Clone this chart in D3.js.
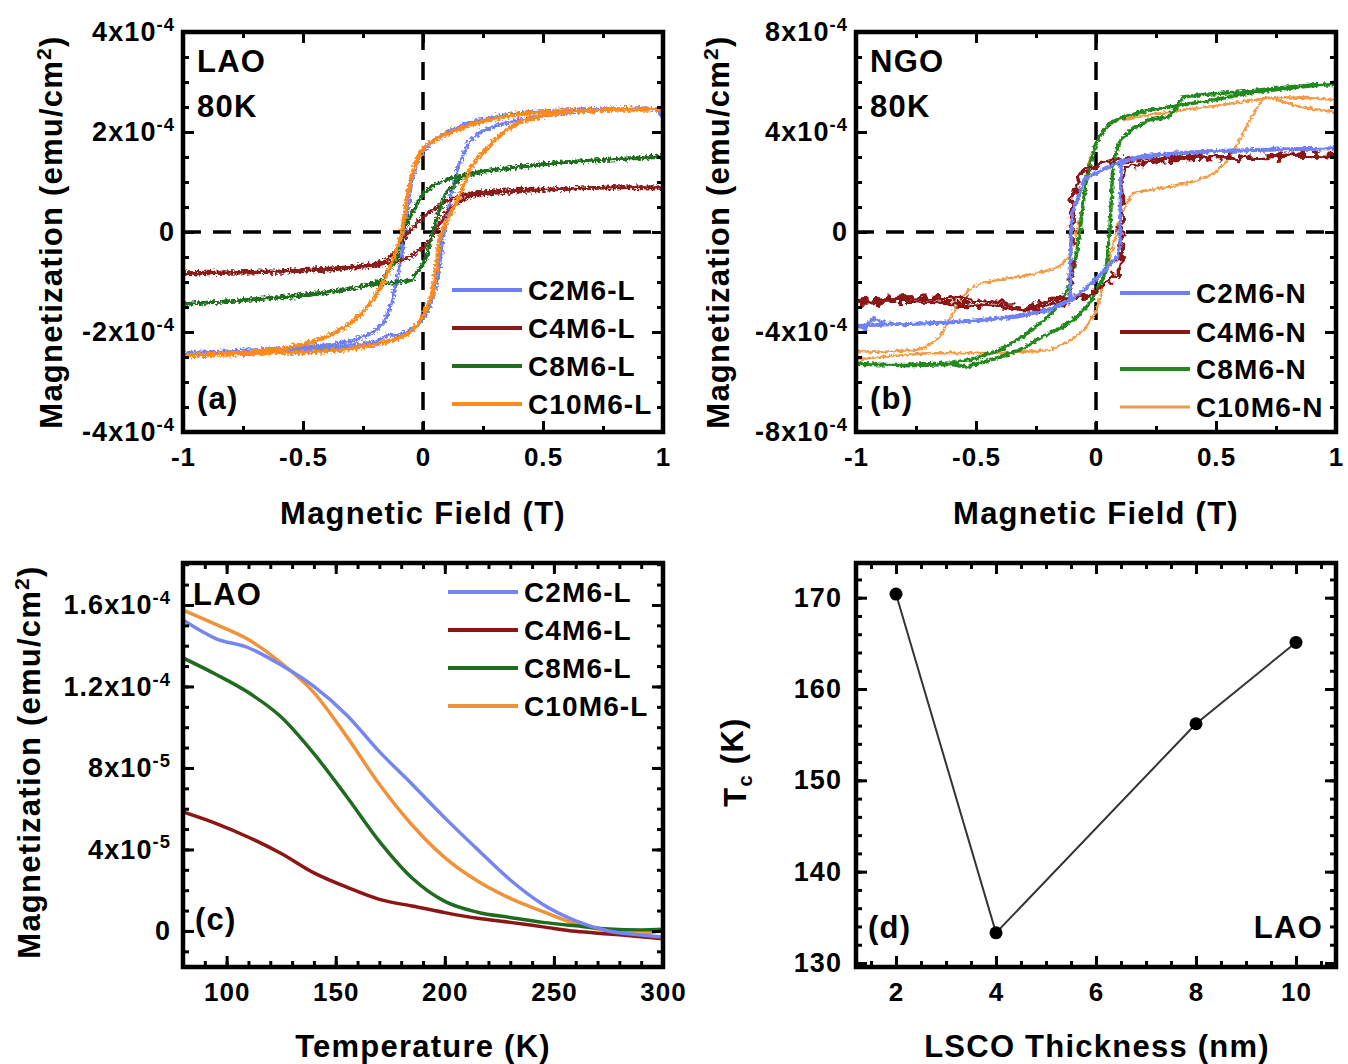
<!DOCTYPE html>
<html>
<head>
<meta charset="utf-8">
<script src="https://cdn.jsdelivr.net/npm/d3@7"></script>
<style>
  body { margin: 0; background: #fff; }
  svg text { font-family: 'Liberation Sans', Arial, sans-serif; font-weight: bold; fill: #000; letter-spacing: 0.04em; }
</style>
</head>
<body>
<div id="chart"></div>
<script>

/****************************************
 *
 * Data
 *
 ****************************************/

// shared field axis of (a) and (b)
const fieldTicks = [-1, -0.5, 0, 0.5, 1]
const fieldTickLabels = ['-1', '-0.5', '0', '0.5', '1']

// magnetization axes, values in 1e-4 emu/cm2
const laoLoopTicks = [-4, -2, 0, 2, 4]
const laoLoopTickLabels = ['-4x10^-4', '-2x10^-4', '0', '2x10^-4', '4x10^-4']
const ngoLoopTicks = [-8, -4, 0, 4, 8]
const ngoLoopTickLabels = ['-8x10^-4', '-4x10^-4', '0', '4x10^-4', '8x10^-4']

const laoSamples = ['C2M6-L', 'C4M6-L', 'C8M6-L', 'C10M6-L']
const ngoSamples = ['C2M6-N', 'C4M6-N', 'C8M6-N', 'C10M6-N']

// (a) M-H loops on LAO at 80 K, [field (T), M (1e-4 emu/cm2)]
const c2m6LDown = [[1, 2.3], [0.98, 2.46], [0.9, 2.48], [0.8, 2.45], [0.7, 2.47], [0.6, 2.44], [0.5, 2.42], [0.4, 2.38], [0.3, 2.3], [0.2, 2.2], [0.12, 2.05], [0.05, 1.85], [0, 1.62], [-0.03, 1.35], [-0.05, 0.95], [-0.07, 0.2], [-0.09, -0.5], [-0.11, -1.0], [-0.13, -1.4], [-0.16, -1.78], [-0.2, -1.98], [-0.25, -2.1], [-0.3, -2.18], [-0.4, -2.26], [-0.5, -2.3], [-0.6, -2.33], [-0.7, -2.36], [-0.8, -2.38], [-0.9, -2.4], [-1, -2.42]]
const c2m6LUp = [[-1, -2.45], [-0.8, -2.42], [-0.6, -2.38], [-0.4, -2.32], [-0.3, -2.27], [-0.2, -2.2], [-0.14, -2.05], [-0.1, -2.08], [-0.05, -1.95], [0, -1.75], [0.03, -1.45], [0.06, -1.0], [0.08, -0.2], [0.1, 0.3], [0.12, 0.8], [0.15, 1.35], [0.19, 1.8], [0.24, 2.0], [0.3, 2.12], [0.4, 2.25], [0.5, 2.32], [0.6, 2.38], [0.7, 2.42], [0.8, 2.45], [0.9, 2.47], [0.98, 2.44], [1, 2.25]]
const c4m6LDown = [[1, 0.88], [0.8, 0.9], [0.6, 0.86], [0.4, 0.85], [0.3, 0.82], [0.2, 0.78], [0.15, 0.72], [0.1, 0.62], [0.05, 0.48], [0, 0.3], [-0.03, 0.15], [-0.06, 0], [-0.09, -0.2], [-0.12, -0.4], [-0.15, -0.56], [-0.2, -0.64], [-0.3, -0.7], [-0.4, -0.73], [-0.6, -0.78], [-0.8, -0.8], [-1, -0.82]]
const c4m6LUp = [[-1, -0.84], [-0.8, -0.82], [-0.6, -0.8], [-0.4, -0.76], [-0.2, -0.68], [-0.1, -0.58], [-0.05, -0.48], [0, -0.32], [0.03, -0.15], [0.05, 0], [0.08, 0.25], [0.1, 0.42], [0.15, 0.6], [0.2, 0.72], [0.3, 0.78], [0.5, 0.84], [0.7, 0.88], [1, 0.9]]
const c8m6LDown = [[1, 1.5], [0.8, 1.45], [0.6, 1.4], [0.5, 1.36], [0.4, 1.3], [0.3, 1.25], [0.2, 1.18], [0.1, 1.05], [0.05, 0.95], [0, 0.78], [-0.045, 0.38], [-0.085, 0], [-0.11, -0.56], [-0.17, -0.96], [-0.25, -1.08], [-0.35, -1.18], [-0.5, -1.28], [-0.7, -1.35], [-0.85, -1.4], [-1, -1.44]]
const c8m6LUp = [[-1, -1.44], [-0.8, -1.38], [-0.6, -1.3], [-0.4, -1.2], [-0.2, -1.05], [-0.1, -1.0], [-0.045, -0.96], [0.01, -0.56], [0.04, 0], [0.07, 0.45], [0.095, 0.78], [0.16, 1.1], [0.25, 1.2], [0.4, 1.3], [0.6, 1.4], [0.8, 1.46], [1, 1.52]]
const c10m6LDown = [[1, 2.45], [0.8, 2.45], [0.6, 2.42], [0.5, 2.4], [0.4, 2.35], [0.3, 2.27], [0.2, 2.15], [0.12, 2.0], [0.05, 1.85], [0, 1.68], [-0.03, 1.4], [-0.05, 1.1], [-0.07, 0.55], [-0.09, -0.05], [-0.11, -0.35], [-0.13, -0.62], [-0.16, -0.95], [-0.2, -1.3], [-0.25, -1.6], [-0.3, -1.82], [-0.38, -2.05], [-0.46, -2.2], [-0.6, -2.35], [-0.8, -2.42], [-1, -2.47]]
const c10m6LUp = [[-1, -2.47], [-0.8, -2.45], [-0.6, -2.42], [-0.45, -2.4], [-0.32, -2.35], [-0.2, -2.25], [-0.11, -2.15], [-0.05, -2.0], [-0.02, -1.82], [0.01, -1.55], [0.04, -1.25], [0.055, -0.7], [0.067, -0.16], [0.09, 0.15], [0.115, 0.35], [0.14, 0.58], [0.17, 0.95], [0.2, 1.3], [0.25, 1.6], [0.3, 1.84], [0.35, 2.05], [0.41, 2.22], [0.5, 2.32], [0.6, 2.4], [0.8, 2.45], [1, 2.45]]

// (b) M-H loops on NGO at 80 K
const c2m6NDown = [[1, 3.35], [0.8, 3.3], [0.6, 3.25], [0.4, 3.2], [0.2, 3.05], [0.1, 2.8], [0.03, 2.5], [-0.05, 2.1], [-0.08, 1.2], [-0.1, 0.8], [-0.105, -0.5], [-0.108, -2.7], [-0.15, -2.9], [-0.2, -3.1], [-0.33, -3.4], [-0.45, -3.5], [-0.6, -3.62], [-0.8, -3.7], [-0.88, -3.65], [-0.93, -3.45], [-0.96, -3.85], [-1, -3.75]]
const c2m6NUp = [[-1, -3.75], [-0.8, -3.68], [-0.6, -3.6], [-0.4, -3.45], [-0.2, -3.15], [-0.1, -2.7], [-0.025, -2.1], [0.03, -1.6], [0.07, -1.15], [0.09, -1.0], [0.1, -0.5], [0.102, 1.5], [0.105, 2.76], [0.15, 2.9], [0.3, 3.1], [0.5, 3.25], [0.7, 3.3], [1, 3.35]]
const c4m6NDown = [[1, 3.05], [0.8, 3.1], [0.6, 2.95], [0.4, 3.05], [0.2, 2.95], [0.1, 2.9], [0.03, 2.7], [-0.03, 2.55], [-0.06, 2.4], [-0.08, 1.7], [-0.09, 1.75], [-0.1, 1.2], [-0.102, -2.5], [-0.13, -2.65], [-0.2, -2.75], [-0.3, -3.1], [-0.35, -2.9], [-0.45, -2.75], [-0.6, -2.65], [-0.8, -2.6], [-1, -2.8]]
const c4m6NUp = [[-1, -2.85], [-0.8, -2.75], [-0.6, -2.85], [-0.4, -3.0], [-0.3, -3.15], [-0.2, -3.0], [-0.1, -2.7], [-0.02, -2.45], [0.06, -1.9], [0.085, -1.6], [0.095, -1.4], [0.1, -1.8], [0.105, -0.5], [0.11, 1.5], [0.115, 2.6], [0.2, 2.75], [0.3, 2.9], [0.5, 3.0], [0.7, 2.95], [0.85, 3.1], [1, 3.0]]
const c8m6NDown = [[1, 5.9], [0.9, 5.85], [0.8, 5.75], [0.64, 5.56], [0.5, 5.3], [0.36, 5.08], [0.22, 4.88], [0.1, 4.55], [0.06, 4.36], [0.02, 3.9], [0, 3.56], [-0.02, 2.9], [-0.04, 2.08], [-0.055, 1.0], [-0.066, 0.08], [-0.08, -0.8], [-0.095, -1.52], [-0.115, -2.2], [-0.14, -2.72], [-0.18, -3.2], [-0.23, -3.64], [-0.3, -4.15], [-0.4, -4.72], [-0.5, -5.05], [-0.6, -5.24], [-0.8, -5.3], [-1, -5.3]]
const c8m6NUp = [[-1, -5.25], [-0.8, -5.35], [-0.6, -5.3], [-0.54, -5.4], [-0.4, -5.0], [-0.3, -4.65], [-0.25, -4.32], [-0.15, -3.85], [-0.08, -3.4], [-0.03, -2.9], [0, -2.44], [0.03, -1.8], [0.045, -1.24], [0.058, 0.08], [0.065, 1.5], [0.07, 2.76], [0.1, 3.68], [0.15, 4.1], [0.22, 4.48], [0.3, 4.6], [0.33, 4.9], [0.36, 5.4], [0.45, 5.5], [0.6, 5.6], [0.8, 5.8], [1, 5.95]]
const c10m6NDown = [[1, 5.28], [0.9, 5.35], [0.75, 5.4], [0.6, 5.2], [0.5, 5.05], [0.36, 4.88], [0.2, 4.65], [0.09, 4.48], [0.03, 4.08], [-0.025, 3.0], [-0.045, 1.8], [-0.066, 0.6], [-0.09, -0.3], [-0.11, -1.0], [-0.15, -1.35], [-0.19, -1.52], [-0.3, -1.75], [-0.4, -1.9], [-0.47, -2.04], [-0.53, -2.3], [-0.57, -2.84], [-0.61, -3.5], [-0.65, -4.2], [-0.7, -4.55], [-0.75, -4.72], [-0.9, -4.8], [-1, -4.75]]
const c10m6NUp = [[-1, -5.1], [-0.9, -5.0], [-0.7, -4.85], [-0.47, -4.84], [-0.3, -4.8], [-0.19, -4.72], [-0.1, -4.3], [-0.05, -3.92], [0, -3.2], [0.017, -2.6], [0.04, -1.6], [0.07, -0.6], [0.1, 0.6], [0.13, 1.2], [0.155, 1.56], [0.2, 1.65], [0.3, 1.8], [0.4, 2.0], [0.46, 2.2], [0.5, 2.4], [0.55, 2.88], [0.6, 3.7], [0.64, 4.48], [0.7, 5.4], [0.75, 5.3], [0.85, 5.0], [1, 4.78]]

// (c) M-T curves, M in 1e-5 emu/cm2
const temperatureTicks = [100, 150, 200, 250, 300]
const mtTicks = [0, 4, 8, 12, 16]
const mtTickLabels = ['0', '4x10^-5', '8x10^-5', '1.2x10^-4', '1.6x10^-4']
const temperature = [80, 95, 110, 125, 140, 155, 170, 185, 200, 215, 230, 245, 260, 275, 290, 300]
const c2m6LMT = [15.26, 14.35, 13.9, 13.05, 12.0, 10.6, 8.8, 7.2, 5.55, 4.0, 2.5, 1.3, 0.5, 0.0, -0.2, -0.3]
const c4m6LMT = [5.84, 5.28, 4.6, 3.8, 2.85, 2.15, 1.55, 1.22, 0.9, 0.62, 0.42, 0.2, -0.02, -0.15, -0.28, -0.38]
const c8m6LMT = [13.4, 12.6, 11.7, 10.5, 8.7, 6.6, 4.4, 2.6, 1.45, 0.92, 0.66, 0.42, 0.25, 0.1, 0.05, 0.08]
const c10m6LMT = [15.75, 15.05, 14.3, 13.15, 11.7, 9.55, 7.2, 5.2, 3.6, 2.45, 1.6, 0.95, 0.35, 0.0, -0.15, 0.05]

// (d) Curie temperature vs LSCO thickness
const thicknessTicks = [2, 4, 6, 8, 10]
const tcTicks = [130, 140, 150, 160, 170]
const thickness = [2, 4, 8, 10]
const curieTemp = [170.4, 133.3, 156.2, 165.1]

/****************************************
 *
 * Layout helpers
 *
 ****************************************/

const width = 1348
	, height = 1064
	, pw = 480

const svg = d3.select('#chart').append('svg')
	.attr('width', width)
	.attr('height', height)

const defs = svg.append('defs')

/**
 * noisy look of the VSM traces, only a style on the path
 */
function jitterFilter(id, freq, scale, seed) {
	let f = defs.append('filter')
		.attr('id', id)
		.attr('filterUnits', 'userSpaceOnUse')
		.attr('x', 0).attr('y', 0)
		.attr('width', width).attr('height', height)
	f.append('feTurbulence')
		.attr('type', 'fractalNoise')
		.attr('baseFrequency', freq)
		.attr('numOctaves', 2)
		.attr('seed', seed)
		.attr('result', 'noise')
	f.append('feDisplacementMap')
		.attr('in', 'SourceGraphic')
		.attr('in2', 'noise')
		.attr('scale', scale)
		.attr('xChannelSelector', 'R')
		.attr('yChannelSelector', 'G')
}

jitterFilter('jitA', 0.4, 7, 2)
jitterFilter('jitB', 0.3, 5, 5)
jitterFilter('jitBred', 0.14, 14, 9)

// split 'Ax10^-4' into a text and a superscript
function supText(sel) {
	sel.each(function () {
		let t = d3.select(this)
			, p = t.text().split('^')
		if (p.length < 2) return
		t.text(p[0])
		t.append('tspan')
			.attr('dy', '-0.55em')
			.attr('font-size', '0.68em')
			.text(p[1])
	})
}

/**
 * framed box with inward ticks on all four sides
 */
function frame(g, x, y, h, o) {
	let axes = [
		{ a: d3.axisBottom, t: [0, h], lab: true, v: o.x, m: o.xMinor, s: x, f: o.xFmt, pad: o.xPad },
		{ a: d3.axisTop, t: [0, 0], lab: false, v: o.x, m: o.xMinor, s: x },
		{ a: d3.axisLeft, t: [0, 0], lab: true, v: o.y, m: o.yMinor, s: y, f: o.yFmt, pad: o.yPad },
		{ a: d3.axisRight, t: [pw, 0], lab: false, v: o.y, m: o.yMinor, s: y }
	]
	axes.forEach(function (d) {
		let tr = 'translate(' + d.t[0] + ',' + d.t[1] + ')'
		g.append('g').attr('transform', tr)
			.call(d.a(d.s).tickValues(d.m).tickSize(-6).tickFormat(''))
		let ax = g.append('g').attr('transform', tr)
			.call(d.a(d.s).tickValues(d.v).tickSize(-11)
				.tickPadding(d.lab ? d.pad : 0)
				.tickFormat(d.lab ? d.f : ''))
		ax.selectAll('text')
			.attr('font-size', d.a === d3.axisLeft ? 27 : 26)
			.call(supText)
	})
	g.selectAll('.domain').remove()
	g.selectAll('.tick line').attr('stroke', '#000').attr('stroke-width', 3)
	g.append('rect')
		.attr('width', pw)
		.attr('height', h)
		.attr('fill', 'none')
		.attr('stroke', '#000')
		.attr('stroke-width', 4.5)
}

function lookup(vals, labels) {
	return function (v) { return labels[vals.indexOf(v)] }
}

function yTitle(x, y, size) {
	return svg.append('text')
		.attr('transform', 'translate(' + x + ',' + y + ') rotate(-90)')
		.attr('text-anchor', 'middle')
		.attr('font-size', size)
}

function xTitle(x, y, label) {
	svg.append('text')
		.attr('x', x).attr('y', y)
		.attr('text-anchor', 'middle')
		.attr('font-size', 31)
		.text(label)
}

function magTitle(x, y) {
	let t = yTitle(x, y, 31)
	t.append('tspan').text('Magnetization (emu/cm')
	t.append('tspan').attr('dy', '-0.5em').attr('font-size', '0.68em').text('2')
	t.append('tspan').attr('dy', '0.34em').text(')')
}

function note(g, x, y, label, anchor) {
	g.append('text')
		.attr('x', x).attr('y', y)
		.attr('font-size', 31)
		.attr('text-anchor', anchor || 'start')
		.text(label)
}

function legend(g, x0, rows, names, colors, widths) {
	names.forEach(function (n, i) {
		g.append('line')
			.attr('x1', x0).attr('x2', x0 + 70)
			.attr('y1', rows[i]).attr('y2', rows[i])
			.attr('stroke', colors[i])
			.attr('stroke-width', widths[i])
		g.append('text')
			.attr('x', x0 + 76).attr('y', rows[i] + 10)
			.attr('font-size', 28)
			.text(n)
	})
}

function clipFor(id, h) {
	defs.append('clipPath').attr('id', id)
		.append('rect').attr('width', pw).attr('height', h)
	return 'url(#' + id + ')'
}

/**
 * M-H hysteresis panel, (a) and (b)
 */
function loopPanel(p) {
	let h = 400
		, g = svg.append('g').attr('transform', 'translate(' + p.left + ',32)')
		, x = d3.scaleLinear().domain([-1, 1]).range([0, pw])
		, y = d3.scaleLinear().domain(p.yDomain).range([h, 0])
		, line = d3.line().x(d => x(d[0])).y(d => y(d[1]))

	// dashed zero lines
	g.append('line')
		.attr('x1', 0).attr('x2', pw)
		.attr('y1', y(0)).attr('y2', y(0))
		.attr('stroke', '#000').attr('stroke-width', 3.5)
		.attr('stroke-dasharray', '18,12')
	g.append('line')
		.attr('x1', x(0)).attr('x2', x(0))
		.attr('y1', 0).attr('y2', h)
		.attr('stroke', '#000').attr('stroke-width', 3.5)
		.attr('stroke-dasharray', '18,12')

	let plot = g.append('g').attr('clip-path', clipFor(p.id + 'clip', h))

	p.series.forEach(function (s) {
		plot.append('g')
			.attr('filter', 'url(#' + s.filter + ')')
			.selectAll('path')
			.data(s.branches)
			.join('path')
			.attr('d', line)
			.attr('fill', 'none')
			.attr('stroke', s.color)
			.attr('stroke-width', s.width)
			.attr('stroke-linejoin', 'round')
	})

	frame(g, x, y, h, {
		x: fieldTicks, xMinor: d3.range(-1, 1.001, 0.25), xFmt: lookup(fieldTicks, fieldTickLabels), xPad: 16,
		y: p.yTicks, yMinor: d3.range(p.yDomain[0], p.yDomain[1] + 0.001, p.yStep), yFmt: lookup(p.yTicks, p.yLabels), yPad: 8
	})

	let ordered = p.series.slice().sort((a, b) => a.order - b.order)
	legend(g, p.legendX, p.legendRows,
		ordered.map(s => s.name), ordered.map(s => s.color), ordered.map(s => s.legendWidth))

	note(g, 14, 40, p.substrate)
	note(g, 14, 85, '80K')
	note(g, 14, 377, p.tag)

	xTitle(p.left + pw / 2, 524, 'Magnetic Field (T)')
	magTitle(p.titleX, 232)
}

const laoColors = ['#6f7ff5', '#8b1a1a', '#1f6f1f', '#ff8a1c']
const ngoColors = ['#6f80f5', '#8b1414', '#21891f', '#f39a45']

loopPanel({
	id: 'a', left: 183, titleX: 62,
	yDomain: [-4, 4], yTicks: laoLoopTicks, yLabels: laoLoopTickLabels, yStep: 0.5,
	substrate: 'LAO', tag: '(a)',
	legendX: 269, legendRows: [258, 296, 334, 372],
	series: [
		{ order: 0, name: laoSamples[0], color: laoColors[0], branches: [c2m6LDown, c2m6LUp], width: 3.5, legendWidth: 4, filter: 'jitA' },
		{ order: 1, name: laoSamples[1], color: laoColors[1], branches: [c4m6LDown, c4m6LUp], width: 3.5, legendWidth: 4, filter: 'jitA' },
		{ order: 2, name: laoSamples[2], color: laoColors[2], branches: [c8m6LDown, c8m6LUp], width: 3.5, legendWidth: 4, filter: 'jitA' },
		{ order: 3, name: laoSamples[3], color: laoColors[3], branches: [c10m6LDown, c10m6LUp], width: 4, legendWidth: 4, filter: 'jitA' }
	]
})

loopPanel({
	id: 'b', left: 856, titleX: 729,
	yDomain: [-8, 8], yTicks: ngoLoopTicks, yLabels: ngoLoopTickLabels, yStep: 1,
	substrate: 'NGO', tag: '(b)',
	legendX: 264, legendRows: [261, 300, 337, 375],
	series: [
		{ order: 3, name: ngoSamples[3], color: ngoColors[3], branches: [c10m6NDown, c10m6NUp], width: 2.4, legendWidth: 3, filter: 'jitB' },
		{ order: 2, name: ngoSamples[2], color: ngoColors[2], branches: [c8m6NDown, c8m6NUp], width: 3.5, legendWidth: 4, filter: 'jitB' },
		{ order: 1, name: ngoSamples[1], color: ngoColors[1], branches: [c4m6NDown, c4m6NUp], width: 4, legendWidth: 4, filter: 'jitBred' },
		{ order: 0, name: ngoSamples[0], color: ngoColors[0], branches: [c2m6NDown, c2m6NUp], width: 3.5, legendWidth: 4, filter: 'jitB' }
	]
})

/**
 * (c) magnetization vs temperature
 */
function mtPanel() {
	let h = 404
		, g = svg.append('g').attr('transform', 'translate(183,563)')
		, x = d3.scaleLinear().domain([80, 300]).range([0, pw])
		, y = d3.scaleLinear().domain([-1.77, 18.06]).range([h, 0])
		, colors = ['#7785ef', '#8c1616', '#1f6b1f', '#f0923a']
		, series = [c2m6LMT, c4m6LMT, c8m6LMT, c10m6LMT]
		, line = d3.line()
			.x((d, i) => x(temperature[i]))
			.y(d => y(d))
			.curve(d3.curveMonotoneX)

	let plot = g.append('g').attr('clip-path', clipFor('cclip', h))
	// drawing order as in the figure: orange under blue
	;[3, 2, 1, 0].forEach(function (i) {
		plot.append('path')
			.attr('d', line(series[i]))
			.attr('fill', 'none')
			.attr('stroke', colors[i])
			.attr('stroke-width', 3.5)
	})

	frame(g, x, y, h, {
		x: temperatureTicks, xMinor: d3.range(80, 300.1, 10), xFmt: d3.format('d'), xPad: 16,
		y: mtTicks, yMinor: d3.range(-1, 18.1, 1), yFmt: lookup(mtTicks, mtTickLabels), yPad: 12
	})

	legend(g, 265, [29, 67, 105, 143], laoSamples, colors, [4, 4, 4, 4])
	note(g, 10, 42, 'LAO')
	note(g, 12, 367, '(c)')

	xTitle(423, 1057, 'Temperature (K)')
	magTitle(40, 762)
}

/**
 * (d) Tc vs LSCO thickness
 */
function tcPanel() {
	let h = 404
		, g = svg.append('g').attr('transform', 'translate(856,563)')
		, x = d3.scaleLinear().domain([1.2, 10.8]).range([0, pw])
		, y = d3.scaleLinear().domain([129.56, 173.8]).range([h, 0])
		, pts = thickness.map((t, i) => [t, curieTemp[i]])

	g.append('path')
		.attr('d', d3.line().x(d => x(d[0])).y(d => y(d[1]))(pts))
		.attr('fill', 'none')
		.attr('stroke', '#333')
		.attr('stroke-width', 2)

	g.selectAll('circle')
		.data(pts)
		.join('circle')
		.attr('cx', d => x(d[0]))
		.attr('cy', d => y(d[1]))
		.attr('r', 6.5)
		.attr('fill', '#000')

	frame(g, x, y, h, {
		x: thicknessTicks, xMinor: d3.range(1.5, 10.8, 0.5), xFmt: d3.format('d'), xPad: 16,
		y: tcTicks, yMinor: d3.range(130, 173.8, 2), yFmt: d3.format('d'), yPad: 14
	})

	note(g, 12, 375, '(d)')
	note(g, 467, 375, 'LAO', 'end')

	xTitle(1097, 1057, 'LSCO Thickness (nm)')
	let t = yTitle(746, 762, 31)
	t.append('tspan').text('T')
	t.append('tspan').attr('dy', '0.3em').attr('font-size', '0.65em').text('c')
	t.append('tspan').attr('dy', '-0.3em').text(' (K)')
}

mtPanel()
tcPanel()

</script>
</body>
</html>
